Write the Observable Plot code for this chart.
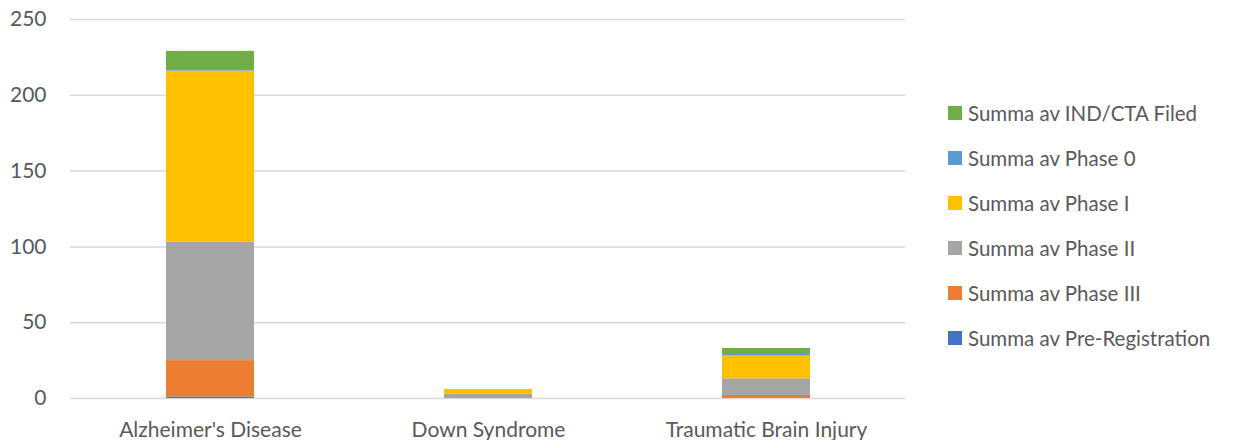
<!DOCTYPE html>
<html>
<head>
<meta charset="utf-8">
<script src="https://cdn.jsdelivr.net/npm/d3@7"></script>
<script src="https://cdn.jsdelivr.net/npm/@observablehq/plot@0.6"></script>
<style>
  html, body { margin: 0; padding: 0; background: #fff; }
  #wrap { position: relative; width: 1236px; height: 440px; font-family: Lato, "Open Sans", sans-serif; }
  #legend { position: absolute; left: 948px; top: 90px; color: #595959; font-size: 20.5px; }
  .item { display: flex; align-items: center; height: 45px; white-space: nowrap; }
  .sw { width: 14px; height: 14px; margin-right: 6px; flex: none; }
</style>
</head>
<body>
<div id="wrap"><div id="chart"></div><div id="legend"></div></div>
<script>
const categories = ["Alzheimer's Disease", "Down Syndrome", "Traumatic Brain Injury"];
const seriesNames = [
  "Summa av Pre-Registration",
  "Summa av Phase III",
  "Summa av Phase II",
  "Summa av Phase I",
  "Summa av Phase 0",
  "Summa av IND/CTA Filed"
];
const seriesColors = ["#4472C4", "#ED7D31", "#A5A5A5", "#FFC000", "#5B9BD5", "#70AD47"];
const preRegistration = [1, 0, 0];
const phaseIII = [24, 0, 2];
const phaseII = [78, 3, 11];
const phaseI = [113, 3, 15];
const phase0 = [1, 0, 1];
const indCtaFiled = [12, 0, 4];
const yTicks = [0, 50, 100, 150, 200, 250];

const seriesValues = [preRegistration, phaseIII, phaseII, phaseI, phase0, indCtaFiled];
const rows = [];
seriesNames.forEach((s, i) => categories.forEach((c, j) => rows.push({category: c, series: s, value: seriesValues[i][j]})));

const chart = Plot.plot({
  width: 920,
  height: 440,
  marginLeft: 70,
  marginRight: 15,
  marginTop: 19,
  marginBottom: 42,
  style: {fontFamily: "Lato, 'Open Sans', sans-serif", fontSize: "21px", color: "#595959", background: "#fff"},
  x: {domain: categories, paddingInner: 0.684, paddingOuter: 0.342, label: null},
  y: {domain: [0, 250], ticks: yTicks, label: null},
  color: {domain: seriesNames, range: seriesColors},
  marks: [
    Plot.gridY(yTicks, {stroke: "#d9d9d9", strokeOpacity: 1, strokeWidth: 1.5}),
    Plot.barY(rows, Plot.stackY({order: seriesNames}, {x: "category", y: "value", fill: "series"})),
    Plot.axisY({ticks: yTicks, tickSize: 0, tickPadding: 24, fill: "#595959", fontSize: 21}),
    Plot.axisX({tickSize: 0, tickPadding: 24, fill: "#595959", fontSize: 21, style: {letterSpacing: "1px"}})
  ]
});
document.getElementById("chart").appendChild(chart);

const legend = document.getElementById("legend");
seriesNames.slice().reverse().forEach((s) => {
  const i = seriesNames.indexOf(s);
  const d = document.createElement("div");
  d.className = "item";
  d.innerHTML = `<span class="sw" style="background:${seriesColors[i]}"></span><span>${s}</span>`;
  legend.appendChild(d);
});
</script>
</body>
</html>
